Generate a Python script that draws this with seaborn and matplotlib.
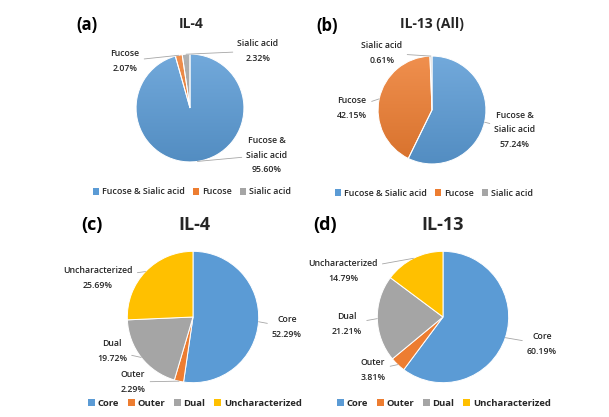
import numpy as np
import matplotlib
matplotlib.use("Agg")
import matplotlib.pyplot as plt
from matplotlib.patches import Patch
from matplotlib.colors import to_rgb
import seaborn as sns

W, H = 609, 417

GLYCAN_LABELS = ["Fucose & Sialic acid", "Fucose", "Sialic acid"]
GLYCAN_SLICE_TEXT = ["Fucose &\nSialic acid", "Fucose", "Sialic acid"]
IL4_GLYCAN = [95.60, 2.07, 2.32]
IL13_GLYCAN = [57.24, 42.15, 0.61]

SITE_LABELS = ["Core", "Outer", "Dual", "Uncharacterized"]
IL4_SITE = [52.29, 2.29, 19.72, 25.69]
IL13_SITE = [60.19, 3.81, 21.21, 14.79]

COLORS = ["#5B9BD5", "#ED7D31", "#A5A5A5", "#FFC000"]
TEXT = "#262626"


def fig_xy(x, y):
    # pixel position measured from the top-left corner -> figure pixels
    return x, H - y


def shade(color, amount):
    c = np.array(to_rgb(color))
    if amount > 0:
        return c + (1 - c) * amount
    return c * (1 + amount)


def gradient_fill(ax, wedge, color):
    top, bottom = shade(color, 0.14), shade(color, -0.09)
    t = np.linspace(0, 1, 64)[:, None, None]
    img = top * (1 - t) + bottom * t
    im = ax.imshow(img, extent=(-1, 1, -1, 1), aspect="auto", origin="upper",
                   interpolation="bilinear", zorder=0.5)
    im.set_clip_path(wedge)
    wedge.set_facecolor("none")


def draw_panel(fig, p):
    cx, cy, r = p["center"]
    ax = fig.add_axes([(cx - r) / W, (H - cy - r) / H, 2 * r / W, 2 * r / H])
    colors = COLORS[:len(p["values"])]
    wedges, _ = ax.pie(p["values"], colors=colors, startangle=90, counterclock=False,
                       radius=1, wedgeprops=dict(edgecolor="white", linewidth=0.7))
    if p["gradient"]:
        for w, c in zip(wedges, colors):
            gradient_fill(ax, w, c)
    ax.set_xlim(-1.02, 1.02)
    ax.set_ylim(-1.02, 1.02)
    ax.set_aspect("equal")
    ax.axis("off")

    # slice labels with leader lines
    for w, name, val, pos in zip(wedges, p["slice_text"], p["values"], p["label_pos"]):
        mid = np.deg2rad((w.theta1 + w.theta2) / 2)
        ax.annotate(f"{name}\n{val:.2f}%", xy=(np.cos(mid), np.sin(mid)),
                    xytext=fig_xy(*pos), textcoords="figure pixels",
                    ha="center", va="center", multialignment="center",
                    fontsize=6.3, fontweight="semibold", color=TEXT, linespacing=1.85,
                    annotation_clip=False,
                    arrowprops=dict(arrowstyle="-", color="#a6a6a6", lw=0.6,
                                    shrinkA=1, shrinkB=0))

    # panel letter and title
    lx, ly = fig_xy(*p["letter_pos"])
    fig.text(lx / W, ly / H, p["letter"], ha="center", va="center",
             fontsize=p["letter_size"], fontweight="bold", color="black")
    tx, ty = fig_xy(*p["title_pos"])
    fig.text(tx / W, ty / H, p["title"], ha="center", va="center",
             fontsize=p["title_size"], fontweight="bold", color=TEXT)

    handles = [Patch(facecolor=c, edgecolor="none") for c in colors]
    gx, gy = fig_xy(*p["legend_pos"])
    fig.legend(handles, p["legend"], loc="center", bbox_to_anchor=(gx / W, gy / H),
               ncol=len(handles), frameon=False,
               handlelength=0.7, handleheight=0.7, handletextpad=0.3,
               columnspacing=0.95, labelcolor=TEXT,
               prop=dict(size=p["legend_size"], weight=p["legend_weight"]))


def main():
    sns.set_theme(style="white")
    plt.rcParams["font.family"] = ["Open Sans", "DejaVu Sans"]

    panels = [
        dict(letter="(a)", title="IL-4", values=IL4_GLYCAN, legend=GLYCAN_LABELS,
             slice_text=GLYCAN_SLICE_TEXT, center=(190, 108, 55), gradient=True,
             label_pos=[(267, 155), (125, 61), (258, 51)],
             letter_pos=(87, 25), title_pos=(191, 24), letter_size=12, title_size=10,
             legend_pos=(192, 192), legend_size=6.4, legend_weight="semibold"),
        dict(letter="(b)", title="IL-13 (All)", values=IL13_GLYCAN, legend=GLYCAN_LABELS,
             slice_text=GLYCAN_SLICE_TEXT, center=(432, 110, 55), gradient=True,
             label_pos=[(515, 130), (352, 108), (382, 53)],
             letter_pos=(327, 26), title_pos=(432, 24), letter_size=12, title_size=10,
             legend_pos=(434, 193), legend_size=6.4, legend_weight="semibold"),
        dict(letter="(c)", title="IL-4", values=IL4_SITE, legend=SITE_LABELS,
             slice_text=SITE_LABELS, center=(193, 317, 67), gradient=False,
             label_pos=[(287, 327), (133, 382), (112, 351), (98, 278)],
             letter_pos=(92, 225), title_pos=(194, 225), letter_size=13, title_size=13,
             legend_pos=(195, 403), legend_size=6.8, legend_weight="bold"),
        dict(letter="(d)", title="IL-13", values=IL13_SITE, legend=SITE_LABELS,
             slice_text=SITE_LABELS, center=(443, 317, 67), gradient=False,
             label_pos=[(542, 344), (373, 370), (347, 324), (343, 271)],
             letter_pos=(325, 225), title_pos=(443, 225), letter_size=13, title_size=13,
             legend_pos=(444, 403), legend_size=6.8, legend_weight="bold"),
    ]

    fig = plt.figure(figsize=(W / 100, H / 100), dpi=100)
    fig.patch.set_facecolor("white")
    for p in panels:
        draw_panel(fig, p)
    fig.savefig("out.png", dpi=100, facecolor="white")


if __name__ == "__main__":
    main()
